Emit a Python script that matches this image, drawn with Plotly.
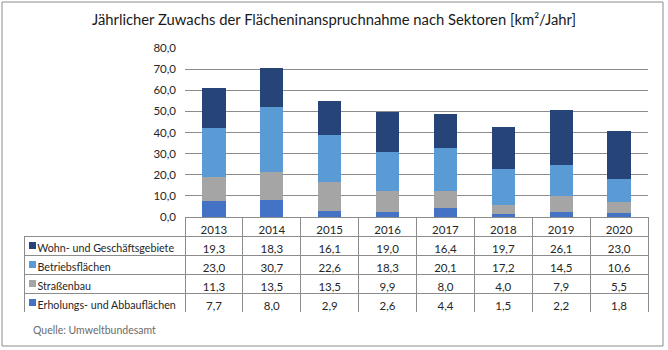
import plotly.graph_objects as go

years = ["2013", "2014", "2015", "2016", "2017", "2018", "2019", "2020"]
series_names = ["Wohn- und Geschäftsgebiete", "Betriebsflächen", "Straßenbau", "Erholungs- und Abbauflächen"]
wohn = [19.3, 18.3, 16.1, 19.0, 16.4, 19.7, 26.1, 23.0]
betrieb = [23.0, 30.7, 22.6, 18.3, 20.1, 17.2, 14.5, 10.6]
strassen = [11.3, 13.5, 13.5, 9.9, 8.0, 4.0, 7.9, 5.5]
erholung = [7.7, 8.0, 2.9, 2.6, 4.4, 1.5, 2.2, 1.8]
colors = ["#264478", "#5B9BD5", "#A5A5A5", "#4472C4"]
values = [wohn, betrieb, strassen, erholung]

FONT = "Lato"
TXT = "#262626"
GRID = "#8c8c8c"

W, H = 668, 350
ml, mr, mt, mb = 24, 20, 48, 38
pw, ph = W - ml - mr, H - mt - mb
plot_left_px = 185
axis_bottom_px = 217
row_h = 19
xdom0 = (plot_left_px - ml) / pw
ydom0 = (H - mb - axis_bottom_px) / ph


def px_x(p):
    return (p - ml) / pw


def px_y(p):
    return (H - mb - p) / ph


fig = go.Figure()
# stack bottom-up: reverse of table order
for name, vals, col in reversed(list(zip(series_names, values, colors))):
    fig.add_trace(go.Bar(x=years, y=vals, name=name, marker=dict(color=col, line=dict(width=0)),
                         showlegend=False, hoverinfo="skip"))


def fmt(v):
    return f"{v:.1f}".replace(".", ",")


NB = "\u00a0"
label_cells = [NB * 2 + n.replace(" ", NB) for n in series_names]
cols = [label_cells] + [[fmt(values[s][i]) for s in range(4)] for i in range(len(years))]
cat_w = (648 - plot_left_px) / len(years)
fig.add_trace(go.Table(
    domain=dict(x=[0, 1], y=[0, ydom0]),
    columnwidth=[plot_left_px - ml] + [cat_w] * len(years),
    header=dict(values=[""] + years, height=row_h,
                line=dict(color=["rgba(0,0,0,0)"] + [GRID] * len(years), width=1),
                fill=dict(color="rgba(0,0,0,0)"),
                align="center", font=dict(family=FONT, size=11.5, color=TXT)),
    cells=dict(values=cols, height=row_h, line=dict(color=GRID, width=1),
               fill=dict(color="rgba(0,0,0,0)"),
               align=["left"] + ["center"] * len(years),
               font=dict(family=FONT, size=[10.7] + [11.5] * len(years), color=TXT)),
))

# legend keys inside the label column, as square markers on their own small axes
row_idx = list(range(len(series_names)))
fig.add_trace(go.Scatter(
    x=[0] * len(series_names), y=row_idx, mode="markers",
    marker=dict(symbol="square", size=7, color=colors, line=dict(width=0)),
    xaxis="x2", yaxis="y2", showlegend=False, hoverinfo="skip"))

fig.add_shape(type="rect", xref="paper", yref="paper",
              x0=px_x(2), x1=px_x(663), y0=px_y(346), y1=px_y(2),
              line=dict(color=GRID, width=1), fillcolor="rgba(0,0,0,0)", layer="below")

fig.add_annotation(text="Quelle: Umweltbundesamt", xref="paper", yref="paper",
                   x=px_x(31), y=px_y(330), xanchor="left", yanchor="middle", showarrow=False,
                   font=dict(family=FONT, size=10.5, color="#6b6b6b"))

fig.update_layout(
    width=W, height=H,
    margin=dict(l=ml, r=mr, t=mt, b=mb),
    paper_bgcolor="white", plot_bgcolor="rgba(0,0,0,0)",
    separators=",.",
    barmode="stack", bargap=0.6,
    title=dict(text="Jährlicher Zuwachs der Flächeninanspruchnahme nach Sektoren [km²/Jahr]",
               x=0.5, xref="container", y=1 - 20 / H, yref="container",
               xanchor="center", yanchor="middle",
               font=dict(family=FONT, size=14.8, color="#1a1a1a")),
    xaxis=dict(domain=[xdom0, 1], type="category", range=[-0.5, 7.5], showticklabels=False,
               showgrid=False, zeroline=False, showline=False, ticks=""),
    yaxis=dict(domain=[ydom0, 1], range=[0, 80], dtick=10, tickformat=".1f",
               showgrid=True, gridcolor=GRID, gridwidth=1, zeroline=False, showline=False,
               ticks="", ticklabelstandoff=8,
               tickfont=dict(family=FONT, size=11.5, color=TXT)),
    xaxis2=dict(domain=[0, px_x(41)], range=[-1, 1], anchor="y2", visible=False, fixedrange=True),
    yaxis2=dict(domain=[0, px_y(axis_bottom_px + row_h)], range=[len(series_names) - 0.5, -0.5],
                anchor="x2", visible=False, fixedrange=True),
    font=dict(family=FONT),
)

fig.write_html("out.html")
